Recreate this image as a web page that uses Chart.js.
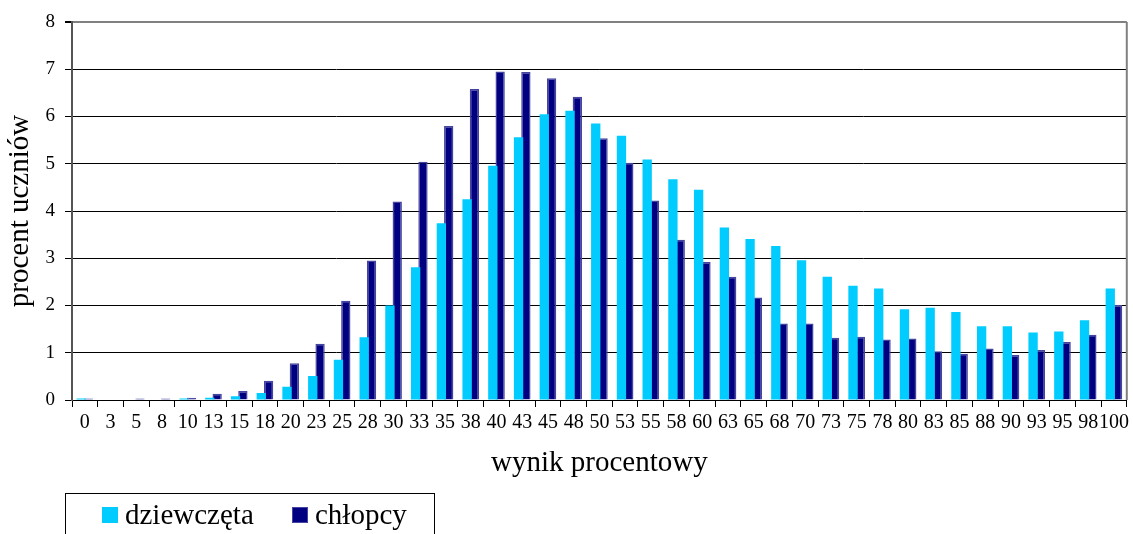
<!DOCTYPE html>
<html lang="pl">
<head>
<meta charset="utf-8">
<title>wynik procentowy</title>
<script src="https://cdn.jsdelivr.net/npm/chart.js@4/dist/chart.umd.min.js"></script>
<style>
    html, body { margin: 0; padding: 0; background: #fff; overflow: hidden; }
    #wrap { position: relative; width: 1133px; height: 534px; }
    #legend {
        position: absolute; left: 65px; top: 493px; width: 370px; height: 60px;
        border: 1px solid #000; box-sizing: border-box;
        font-family: 'Liberation Serif', 'Times New Roman', serif; font-size: 29px; color: #000;
    }
    #legend .item { position: absolute; top: 4px; display: flex; align-items: center; }
    #legend .box { width: 16px; height: 16px; margin-right: 7px; box-sizing: border-box; }
</style>
</head>
<body>
<div id="wrap">
    <canvas id="chart"></canvas>
    <div id="legend"></div>
</div>
<script>
// --- data ---
const scoreLabels = ['0','3','5','8','10','13','15','18','20','23','25','28','30','33','35','38','40',
    '43','45','48','50','53','55','58','60','63','65','68','70','73','75','78','80','83','85','88',
    '90','93','95','98','100'];

const girls = [0.03, 0, 0, 0, 0.03, 0.05, 0.08, 0.15, 0.28, 0.51, 0.85, 1.33, 2.00, 2.81, 3.74,
    4.25, 4.96, 5.56, 6.05, 6.12, 5.85, 5.59, 5.09, 4.67, 4.45, 3.65, 3.41, 3.26, 2.96, 2.61,
    2.42, 2.36, 1.92, 1.95, 1.86, 1.56, 1.56, 1.43, 1.45, 1.69, 2.36];

const boys = [0.03, 0, 0.03, 0.03, 0.05, 0.13, 0.19, 0.41, 0.78, 1.19, 2.10, 2.95, 4.20, 5.04,
    5.80, 6.58, 6.95, 6.94, 6.81, 6.42, 5.54, 5.02, 4.22, 3.39, 2.92, 2.61, 2.17, 1.62, 1.62,
    1.32, 1.34, 1.28, 1.30, 1.03, 0.98, 1.09, 0.95, 1.06, 1.23, 1.38, 2.01];

const seriesNames = ['dziewczęta', 'chłopcy'];

const FONT = "'Liberation Serif', 'Times New Roman', serif";

// right-hand frame line of the plot area (Excel style)
const frameRight = {
    id: 'frameRight',
    afterDraw(chart) {
        const { ctx, chartArea: a } = chart;
        ctx.save();
        ctx.strokeStyle = '#808080';
        ctx.lineWidth = 2;
        ctx.beginPath();
        ctx.moveTo(a.right, a.top);
        ctx.lineTo(a.right, a.bottom);
        ctx.stroke();
        ctx.restore();
    }
};

const chart = new Chart(document.getElementById('chart'), {
    type: 'bar',
    data: {
        labels: scoreLabels,
        datasets: [
            {
                label: seriesNames[0],
                data: girls,
                backgroundColor: '#00ccff',
                borderWidth: 0,
                categoryPercentage: 0.57,
                barPercentage: 1.27,
            },
            {
                label: seriesNames[1],
                data: boys,
                backgroundColor: '#000080',
                borderColor: '#4545a0',
                borderWidth: 1.5,
                categoryPercentage: 0.57,
                barPercentage: 1.27,
            },
        ],
    },
    options: {
        responsive: true,
        maintainAspectRatio: false,
        animation: false,
        layout: { padding: { left: 0, right: 6, top: 22, bottom: 49 } },
        plugins: {
            legend: { display: false },
            tooltip: { enabled: false },
        },
        scales: {
            x: {
                offset: true,
                grid: {
                    offset: true,
                    drawOnChartArea: false,
                    drawTicks: true,
                    tickLength: 7,
                    color: '#000',
                },
                border: { color: '#000', width: 1 },
                ticks: {
                    color: '#000',
                    font: { family: FONT, size: 20 },
                    padding: 4,
                    maxRotation: 0,
                    autoSkip: false,
                },
                title: {
                    display: true,
                    text: 'wynik procentowy',
                    color: '#000',
                    font: { family: FONT, size: 29 },
                    padding: { top: 0, bottom: 4 },
                },
                afterFit(scale) { scale.height = 85; },
            },
            y: {
                min: 0,
                max: 8,
                ticks: {
                    stepSize: 1,
                    color: '#000',
                    font: { family: FONT, size: 19 },
                    padding: 10,
                },
                grid: {
                    color: ctx => (ctx.tick && ctx.tick.value === 8) ? '#808080' : '#000',
                    lineWidth: ctx => (ctx.tick && ctx.tick.value === 8) ? 2 : 1,
                    tickLength: 7,
                    tickColor: '#000',
                },
                border: { color: '#555', width: 2 },
                title: {
                    display: true,
                    text: 'procent uczniów',
                    color: '#000',
                    font: { family: FONT, size: 29 },
                    padding: { top: 3, bottom: 0 },
                },
                afterFit(scale) { scale.width = 72; },
            },
        },
    },
    plugins: [frameRight],
});

// legend as real text, built from the datasets
const legendEl = document.getElementById('legend');
const legendX = [36, 226];
chart.data.datasets.forEach((ds, i) => {
    const item = document.createElement('div');
    item.className = 'item';
    item.style.left = legendX[i] + 'px';
    const box = document.createElement('span');
    box.className = 'box';
    box.style.background = ds.backgroundColor;
    if (ds.borderWidth) box.style.border = '1.5px solid ' + ds.borderColor;
    const txt = document.createElement('span');
    txt.textContent = ds.label;
    item.appendChild(box);
    item.appendChild(txt);
    legendEl.appendChild(item);
});
</script>
</body>
</html>
